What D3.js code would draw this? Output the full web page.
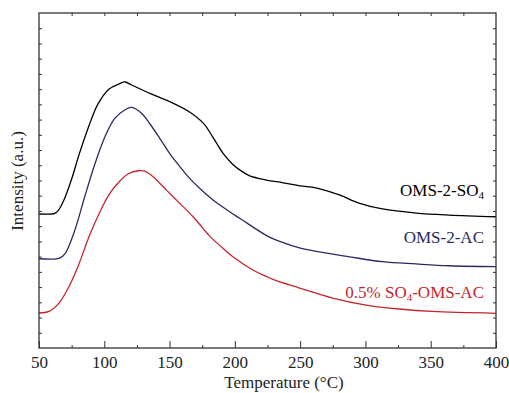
<!DOCTYPE html>
<html><head><meta charset="utf-8">
<script src="https://cdn.jsdelivr.net/npm/d3@7"></script>
<style>
html,body{margin:0;padding:0;background:#fff;}
svg text{font-family:"Liberation Serif","Times New Roman",Tinos,serif !important;}
</style></head>
<body><svg id="chart" width="509" height="393"></svg>
<script>
// Temperature (°C)
const blackT = [50, 60, 62, 65, 69, 75, 81, 88, 95, 103.5, 111, 116, 121, 135, 150, 165, 176, 183, 191, 198.5, 204, 211, 224, 237, 250, 262, 280, 295, 313, 339, 364, 400];
const blackI = [8.80, 8.80, 8.84, 9.06, 9.70, 11.10, 12.78, 14.53, 16.00, 17.00, 17.33, 17.47, 17.27, 16.72, 16.19, 15.52, 14.75, 13.87, 12.78, 12.05, 11.68, 11.32, 11.03, 10.85, 10.64, 10.51, 10.05, 9.52, 9.13, 8.86, 8.73, 8.62];

const blueT = [50, 62, 66, 70, 77.5, 85, 93, 100.5, 108, 115.7, 121, 128.5, 135, 142.5, 150, 158, 165.4, 173, 183.3, 196, 203.7, 224, 236.5, 249.5, 262.3, 287.8, 313, 338.8, 364.2, 400];
const blueI = [5.86, 5.84, 5.92, 6.20, 7.75, 9.93, 12.13, 13.87, 15.08, 15.63, 15.80, 15.41, 14.71, 13.77, 12.78, 11.90, 11.14, 10.49, 9.72, 8.95, 8.52, 7.40, 6.93, 6.57, 6.34, 5.99, 5.67, 5.52, 5.40, 5.34];

const redT = [50, 57.6, 65.3, 72.9, 80.6, 88.2, 95.9, 103.5, 111.2, 118.8, 126, 131, 137.4, 147.6, 157.8, 168, 175.6, 180.7, 193.5, 198.5, 213.8, 224.1, 229.1, 249.5, 274.8, 300.5, 326, 351.2, 400];
const redI = [2.30, 2.40, 2.95, 4.02, 5.52, 7.29, 8.80, 10.05, 10.90, 11.46, 11.64, 11.61, 11.25, 10.37, 9.50, 8.62, 7.86, 7.35, 6.35, 5.99, 5.12, 4.70, 4.50, 3.94, 3.28, 2.82, 2.56, 2.40, 2.28];

const seriesNames = ["OMS-2-SO4", "OMS-2-AC", "0.5% SO4-OMS-AC"];
const xTicks = [50, 100, 150, 200, 250, 300, 350, 400];

const colors = ["#000000", "#2a2a62", "#c4262c"];
const series = [
  {name: seriesNames[0], t: blackT, v: blackI, color: colors[0]},
  {name: seriesNames[1], t: blueT, v: blueI, color: colors[1]},
  {name: seriesNames[2], t: redT, v: redI, color: colors[2]}
];

const FONT = '"Liberation Serif","Times New Roman",Tinos,serif';
const svg = d3.select("#chart");
const L = 39, R = 496, T = 13, B = 348;
const x = d3.scaleLinear().domain([50, 400]).range([L, R]);
const y = d3.scaleLinear().domain([0, 22]).range([B, T]);

const axisColor = "#333";

// curves
const line = d3.line().x(d => x(d[0])).y(d => y(d[1])).curve(d3.curveCatmullRom.alpha(0.5));
series.forEach(s => {
  svg.append("path")
    .datum(s.t.map((t, i) => [t, s.v[i]]))
    .attr("d", line)
    .attr("fill", "none")
    .attr("stroke", s.color)
    .attr("stroke-width", 1.3)
    .attr("stroke-linejoin", "round");
});

// axes
const minorX = d3.range(75, 400, 50);
const gB = svg.append("g").attr("transform", `translate(0,${B})`)
  .call(d3.axisBottom(x).tickValues(xTicks).tickSize(-7).tickPadding(8).tickFormat(d3.format("d")));
gB.attr("font-family", FONT).attr("font-size", 17);
gB.selectAll(".tick line").attr("stroke", axisColor);
gB.selectAll(".tick text").attr("fill", "#222").style("font-family", FONT).style("font-size", "17px");
gB.select(".domain").remove();
const gBm = svg.append("g").attr("transform", `translate(0,${B})`)
  .call(d3.axisBottom(x).tickValues(minorX).tickSize(-3).tickFormat(""));
gBm.select(".domain").remove();
gBm.selectAll(".tick text").remove();
gBm.selectAll(".tick line").attr("stroke", axisColor);

const gT = svg.append("g").attr("transform", `translate(0,${T})`)
  .call(d3.axisTop(x).tickValues(d3.range(75, 400, 25)).tickSize(-3).tickFormat(""));
gT.select(".domain").remove();
gT.selectAll(".tick text").remove();
gT.selectAll(".tick line").attr("stroke", axisColor);

const yT = d3.range(1, 22);
const gL = svg.append("g").attr("transform", `translate(${L},0)`)
  .call(d3.axisLeft(y).tickValues(yT).tickSize(-3).tickFormat(""));
gL.select(".domain").remove();
gL.selectAll(".tick text").remove();
gL.selectAll(".tick line").attr("stroke", axisColor);
const gR = svg.append("g").attr("transform", `translate(${R},0)`)
  .call(d3.axisRight(y).tickValues(yT).tickSize(-3).tickFormat(""));
gR.select(".domain").remove();
gR.selectAll(".tick text").remove();
gR.selectAll(".tick line").attr("stroke", axisColor);

// frame
svg.append("rect").attr("x", L).attr("y", T).attr("width", R - L).attr("height", B - T)
  .attr("fill", "none").attr("stroke", axisColor).attr("stroke-width", 1.3);

// axis titles
svg.append("text").attr("x", 284).attr("y", 388).attr("text-anchor", "middle")
  .style("font-family", FONT).attr("font-size", "17px").attr("fill", "#222").text("Temperature (°C)");
svg.append("text").attr("transform", "translate(23,181) rotate(-90)").attr("text-anchor", "middle")
  .style("font-family", FONT).attr("font-size", "17px").attr("fill", "#222").text("Intensity (a.u.)");

// series labels
function label(yy, parts, color) {
  const t = svg.append("text").attr("x", 484).attr("y", yy).attr("text-anchor", "end")
    .style("font-family", FONT).attr("font-size", "17px").attr("fill", color);
  let shift = 0;
  parts.forEach(p => {
    if (p.sub) {
      t.append("tspan").attr("font-size", "11px").attr("dy", 3).text(p.s);
      shift = -3;
    } else {
      const ts = t.append("tspan").text(p.s);
      if (shift) { ts.attr("dy", shift); shift = 0; }
    }
  });
}
label(196, [{s: "OMS-2-SO"}, {s: "4", sub: true}], colors[0]);
label(243, [{s: "OMS-2-AC"}], colors[1]);
label(298, [{s: "0.5% SO"}, {s: "4", sub: true}, {s: "-OMS-AC"}], colors[2]);
</script></body></html>
